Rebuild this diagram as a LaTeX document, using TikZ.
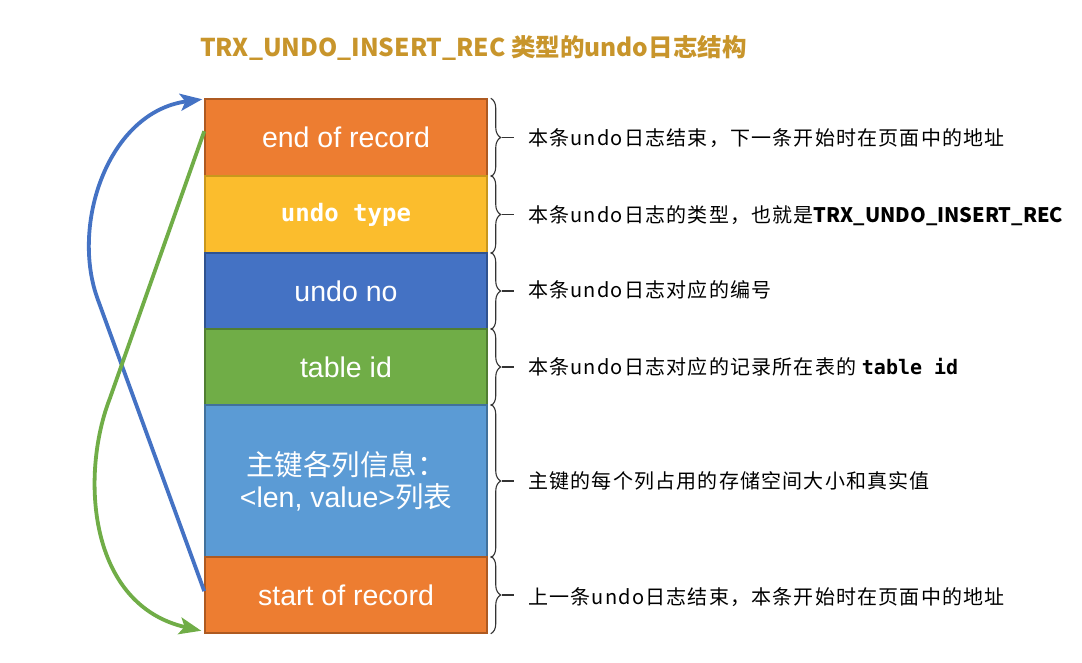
\documentclass[tikz,border=0pt]{standalone}
\usepackage{fontspec}
\setmainfont{Liberation Sans}
\newfontfamily\cjk{Noto Sans CJK SC}
\newfontfamily\cjkann[LetterSpace=6]{Noto Sans CJK SC}
\newfontfamily\mono{DejaVu Sans Mono}
\usetikzlibrary{arrows.meta,decorations.pathreplacing,calc}
\definecolor{orf}{HTML}{ED7D31}\definecolor{ord}{HTML}{AE5A21}
\definecolor{yef}{HTML}{FBBD2D}\definecolor{yed}{HTML}{C9971C}
\definecolor{dbf}{HTML}{4472C4}\definecolor{dbd}{HTML}{2F528F}
\definecolor{grf}{HTML}{70AD47}\definecolor{grd}{HTML}{507E32}
\definecolor{lbf}{HTML}{5B9BD5}\definecolor{lbd}{HTML}{41719C}
\definecolor{titlec}{HTML}{C8952B}
\definecolor{bracec}{HTML}{333333}
\begin{document}
\begin{tikzpicture}[x=1pt,y=-1pt,
  row/.style={rectangle,minimum width=282pt,inner sep=0pt,line width=1.5pt,text=white,
    font=\fontsize{28.5}{32}\selectfont,align=center},
  ann/.style={anchor=west,inner sep=0pt,font=\cjkann\fontsize{20}{23}\selectfont,text=black},
  brc/.style={decorate,decoration={brace,amplitude=10pt},draw=bracec,line width=1.1pt},
  tick/.style={draw=bracec,line width=1.1pt},
  arr/.style={line width=3.8pt,-{Stealth[length=22pt,width=17pt,inset=5pt]}}]
\useasboundingbox[fill=white] (0,0) rectangle (1082,662);
\node[font=\cjk\bfseries\fontsize{24.5}{28}\selectfont,text=titlec,anchor=west,inner sep=0pt] (title) at (200,48) {TRX\_UNDO\_INSERT\_REC 类型的undo日志结构};
\node[row,fill=orf,draw=ord,minimum height=77pt] (r1) at (346,137.5) {end of record};
\node[row,fill=yef,draw=yed,minimum height=77pt,font=\mono\bfseries\fontsize{24}{28}\selectfont] (r2) at (346,214.5) {undo type};
\node[row,fill=dbf,draw=dbd,minimum height=76pt] (r3) at (346,291) {undo no};
\node[row,fill=grf,draw=grd,minimum height=76pt] (r4) at (346,367) {table id};
\node[row,fill=lbf,draw=lbd,minimum height=152pt] (r5) at (346,481) {{\cjk 主键各列信息：}\\[0pt]<len, value>{\cjk 列表}};
\node[row,fill=orf,draw=ord,minimum height=76pt] (r6) at (346,595) {start of record};
\foreach \r in {r1,r2,r3,r4,r5,r6}{
  \draw[brc] ([xshift=3pt]\r.north east) -- ([xshift=3pt]\r.south east);
  \draw[tick] ([xshift=14pt]\r.east) -- ([xshift=26pt]\r.east);
}
\node[ann] (a1) at (528,138) {本条undo日志结束，下一条开始时在页面中的地址};
\node[ann] (a2) at (528,216) {本条undo日志的类型，也就是{\cjk\bfseries TRX\_UNDO\_INSERT\_REC}};
\node[ann] (a3) at (528,290) {本条undo日志对应的编号};
\node[ann] (a4) at (528,367) {本条undo日志对应的记录所在表的 {\mono\bfseries table id}};
\node[ann] (a5) at (528,481) {主键的每个列占用的存储空间大小和真实值};
\node[ann] (a6) at (528,597) {上一条undo日志结束，本条开始时在页面中的地址};
\coordinate (bs) at ($(r6.north west)!0.45!(r6.south west)$);
\coordinate (gs) at ($(r1.north west)!0.42!(r1.south west)$);
\draw[arr,draw=dbf] (bs) -- (98,300) .. controls (70,225) and (108,112) .. ([xshift=-2pt,yshift=-1pt]r1.north west);
\draw[arr,draw=grf] (gs) -- (110,398) .. controls (80,475) and (88,605) .. ([xshift=-3pt,yshift=3pt]r6.south west);
\end{tikzpicture}
\end{document}
